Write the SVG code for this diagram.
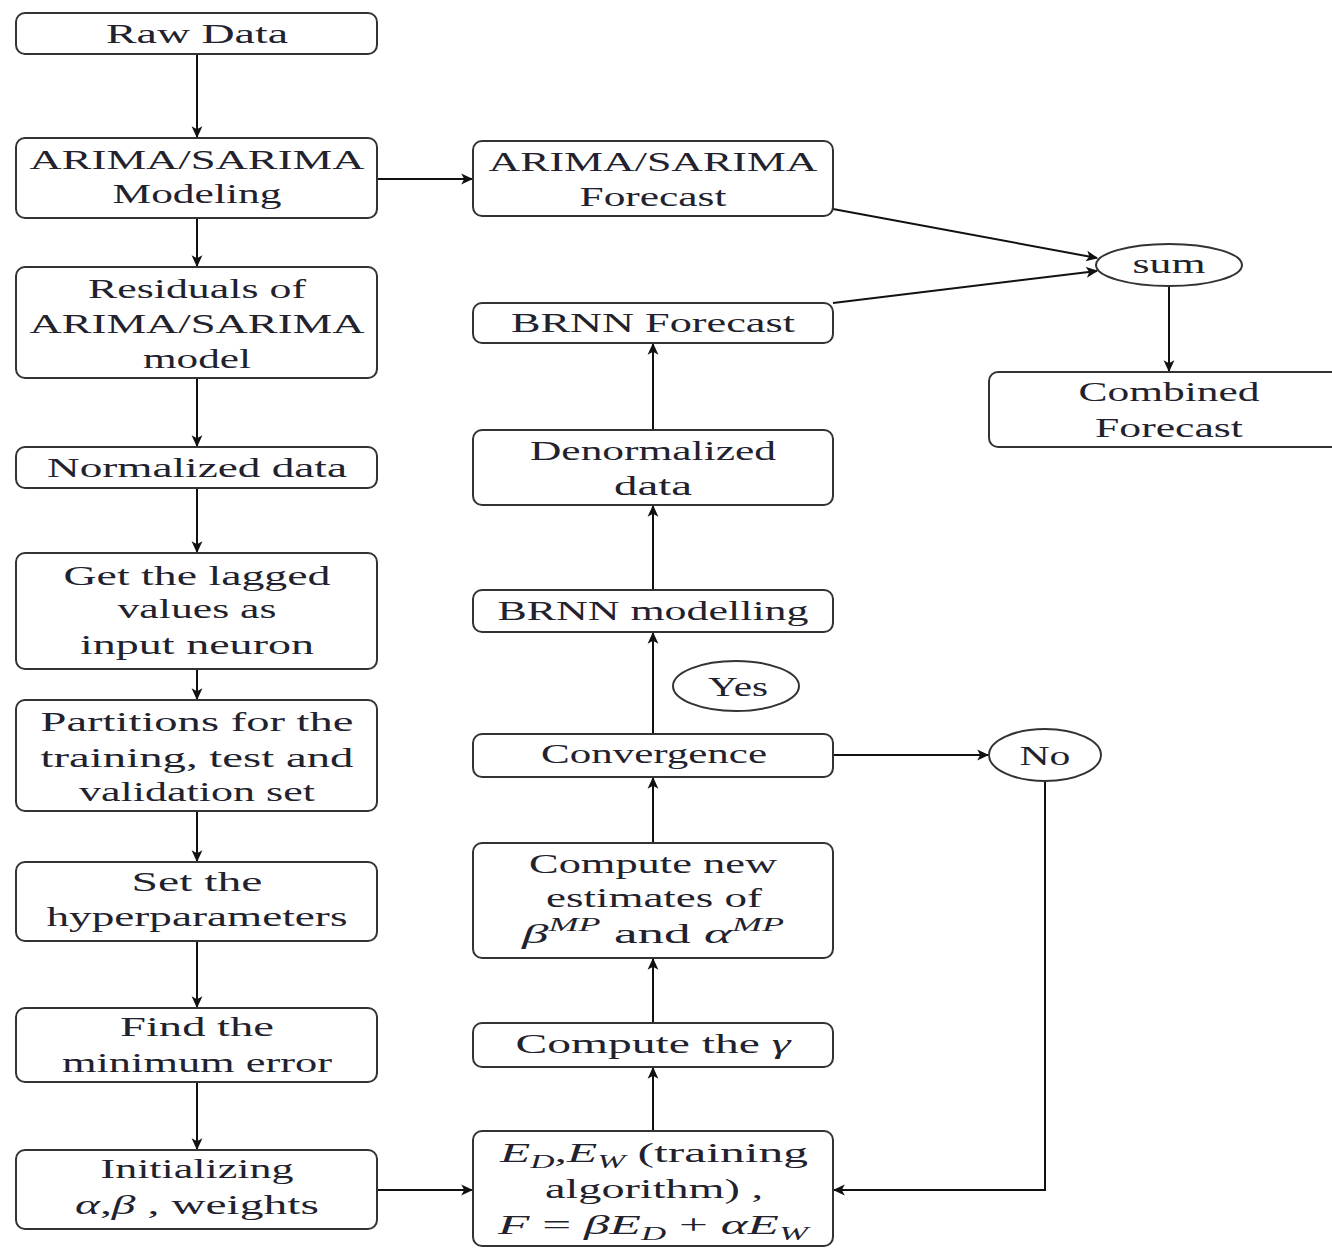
<svg xmlns="http://www.w3.org/2000/svg" width="1332" height="1248" viewBox="0 0 1332 1248">
<defs>
<marker id="ah" viewBox="0 0 10 10" refX="9" refY="5" markerWidth="6" markerHeight="6" orient="auto" markerUnits="strokeWidth">
<path d="M0,0.5 L10,5 L0,9.5 L2.5,5 Z" fill="#111"/>
</marker>
<style>
.box{fill:#fff;stroke:#333;stroke-width:2}
.t{font-family:"Liberation Serif","Times New Roman",serif;font-size:28px;fill:#22222e;text-anchor:middle}
.i{font-style:italic}
.s{font-size:19px}
.c{fill:none;stroke:#111;stroke-width:2;marker-end:url(#ah)}
</style>
</defs>
<rect width="1332" height="1248" fill="#fff"/>
<g id="connectors">
<line class="c" x1="197" y1="54" x2="197" y2="137"/>
<line class="c" x1="377" y1="179" x2="472" y2="179"/>
<line class="c" x1="197" y1="218" x2="197" y2="266"/>
<line class="c" x1="197" y1="378" x2="197" y2="446"/>
<line class="c" x1="197" y1="488" x2="197" y2="552"/>
<line class="c" x1="197" y1="669" x2="197" y2="699"/>
<line class="c" x1="197" y1="811" x2="197" y2="861"/>
<line class="c" x1="197" y1="941" x2="197" y2="1007"/>
<line class="c" x1="197" y1="1082" x2="197" y2="1149"/>
<line class="c" x1="377" y1="1190" x2="472" y2="1190"/>
<line class="c" x1="653" y1="1131" x2="653" y2="1068"/>
<line class="c" x1="653" y1="1023" x2="653" y2="959"/>
<line class="c" x1="653" y1="843" x2="653" y2="778"/>
<line class="c" x1="653" y1="734" x2="653" y2="633"/>
<line class="c" x1="653" y1="590" x2="653" y2="506"/>
<line class="c" x1="653" y1="430" x2="653" y2="344"/>
<line class="c" x1="833" y1="209" x2="1097" y2="258"/>
<line class="c" x1="833" y1="303" x2="1097" y2="271"/>
<line class="c" x1="1169" y1="286" x2="1169" y2="371"/>
<line class="c" x1="833" y1="755" x2="988" y2="755"/>
<polyline class="c" points="1045,781 1045,1190 834,1190"/>
</g>
<g id="raw-data"><rect class="box" x="16" y="13" width="361" height="41" rx="9"/>
<text class="t" x="197" y="43" textLength="182" lengthAdjust="spacingAndGlyphs">Raw Data</text></g>
<g id="arima-modeling"><rect class="box" x="16" y="138" width="361" height="80" rx="9"/>
<text class="t" x="197" y="169" textLength="335" lengthAdjust="spacingAndGlyphs">ARIMA/SARIMA</text>
<text class="t" x="197" y="203" textLength="169" lengthAdjust="spacingAndGlyphs">Modeling</text></g>
<g id="residuals"><rect class="box" x="16" y="267" width="361" height="111" rx="9"/>
<text class="t" x="197" y="298" textLength="218" lengthAdjust="spacingAndGlyphs">Residuals of</text>
<text class="t" x="197" y="333" textLength="335" lengthAdjust="spacingAndGlyphs">ARIMA/SARIMA</text>
<text class="t" x="197" y="368" textLength="108" lengthAdjust="spacingAndGlyphs">model</text></g>
<g id="normalized"><rect class="box" x="16" y="447" width="361" height="41" rx="9"/>
<text class="t" x="197" y="477" textLength="300" lengthAdjust="spacingAndGlyphs">Normalized data</text></g>
<g id="lagged"><rect class="box" x="16" y="553" width="361" height="116" rx="9"/>
<text class="t" x="197" y="585" textLength="267" lengthAdjust="spacingAndGlyphs">Get the lagged</text>
<text class="t" x="197" y="618" textLength="159" lengthAdjust="spacingAndGlyphs">values as</text>
<text class="t" x="197" y="654" textLength="234" lengthAdjust="spacingAndGlyphs">input neuron</text></g>
<g id="partitions"><rect class="box" x="16" y="700" width="361" height="111" rx="9"/>
<text class="t" x="197" y="731" textLength="313" lengthAdjust="spacingAndGlyphs">Partitions for the</text>
<text class="t" x="197" y="767" textLength="313" lengthAdjust="spacingAndGlyphs">training, test and</text>
<text class="t" x="197" y="801" textLength="236" lengthAdjust="spacingAndGlyphs">validation set</text></g>
<g id="hyperparameters"><rect class="box" x="16" y="862" width="361" height="79" rx="9"/>
<text class="t" x="197" y="891" textLength="131" lengthAdjust="spacingAndGlyphs">Set the</text>
<text class="t" x="197" y="926" textLength="301" lengthAdjust="spacingAndGlyphs">hyperparameters</text></g>
<g id="min-error"><rect class="box" x="16" y="1008" width="361" height="74" rx="9"/>
<text class="t" x="197" y="1036" textLength="154" lengthAdjust="spacingAndGlyphs">Find the</text>
<text class="t" x="197" y="1072" textLength="270" lengthAdjust="spacingAndGlyphs">minimum error</text></g>
<g id="initializing"><rect class="box" x="16" y="1150" width="361" height="79" rx="9"/>
<text class="t" x="197" y="1178" textLength="193" lengthAdjust="spacingAndGlyphs">Initializing</text>
<text class="t" x="197" y="1214" textLength="244" lengthAdjust="spacingAndGlyphs"><tspan class="i">α</tspan>,<tspan class="i">β</tspan> , weights</text></g>
<g id="arima-forecast"><rect class="box" x="473" y="141" width="360" height="75" rx="9"/>
<text class="t" x="653" y="171" textLength="329" lengthAdjust="spacingAndGlyphs">ARIMA/SARIMA</text>
<text class="t" x="653" y="206" textLength="147" lengthAdjust="spacingAndGlyphs">Forecast</text></g>
<g id="brnn-forecast"><rect class="box" x="473" y="303" width="360" height="40" rx="9"/>
<text class="t" x="653" y="332" textLength="284" lengthAdjust="spacingAndGlyphs">BRNN Forecast</text></g>
<g id="denormalized"><rect class="box" x="473" y="430" width="360" height="75" rx="9"/>
<text class="t" x="653" y="460" textLength="246" lengthAdjust="spacingAndGlyphs">Denormalized</text>
<text class="t" x="653" y="495" textLength="78" lengthAdjust="spacingAndGlyphs">data</text></g>
<g id="brnn-modelling"><rect class="box" x="473" y="590" width="360" height="42" rx="9"/>
<text class="t" x="653" y="620" textLength="311" lengthAdjust="spacingAndGlyphs">BRNN modelling</text></g>
<g id="yes"><ellipse class="box" cx="736" cy="686" rx="63" ry="25"/>
<text class="t" x="738" y="696" textLength="60" lengthAdjust="spacingAndGlyphs">Yes</text></g>
<g id="convergence"><rect class="box" x="473" y="734" width="360" height="43" rx="9"/>
<text class="t" x="654" y="763" textLength="226" lengthAdjust="spacingAndGlyphs">Convergence</text></g>
<g id="no"><ellipse class="box" cx="1045" cy="755" rx="56" ry="26"/>
<text class="t" x="1045" y="765" textLength="51" lengthAdjust="spacingAndGlyphs">No</text></g>
<g id="compute-estimates"><rect class="box" x="473" y="843" width="360" height="115" rx="9"/>
<text class="t" x="653" y="873" textLength="248" lengthAdjust="spacingAndGlyphs">Compute new</text>
<text class="t" x="654" y="907" textLength="216" lengthAdjust="spacingAndGlyphs">estimates of</text>
<text class="t" x="653" y="943" textLength="262" lengthAdjust="spacingAndGlyphs"><tspan class="i">β</tspan><tspan class="i s" dy="-12">MP</tspan><tspan dy="12"> and </tspan><tspan class="i">α</tspan><tspan class="i s" dy="-12">MP</tspan></text></g>
<g id="compute-gamma"><rect class="box" x="473" y="1023" width="360" height="44" rx="9"/>
<text class="t" x="653" y="1053" textLength="275" lengthAdjust="spacingAndGlyphs">Compute the <tspan class="i">γ</tspan></text></g>
<g id="training"><rect class="box" x="473" y="1131" width="360" height="115" rx="9"/>
<text class="t" x="654" y="1162" textLength="308" lengthAdjust="spacingAndGlyphs"><tspan class="i">E</tspan><tspan class="i s" dy="6">D</tspan><tspan dy="-6">,</tspan><tspan class="i">E</tspan><tspan class="i s" dy="6">W</tspan><tspan dy="-6"> (training</tspan></text>
<text class="t" x="654" y="1198" textLength="218" lengthAdjust="spacingAndGlyphs">algorithm) ,</text>
<text class="t" x="653" y="1234" textLength="310" lengthAdjust="spacingAndGlyphs"><tspan class="i">F</tspan> = <tspan class="i">βE</tspan><tspan class="i s" dy="6">D</tspan><tspan dy="-6"> + </tspan><tspan class="i">αE</tspan><tspan class="i s" dy="6">W</tspan></text></g>
<g id="sum"><ellipse class="box" cx="1169" cy="265" rx="73" ry="21"/>
<text class="t" x="1169" y="273" textLength="73" lengthAdjust="spacingAndGlyphs">sum</text></g>
<g id="combined"><rect class="box" x="989" y="372" width="352" height="75" rx="9"/>
<text class="t" x="1169" y="401" textLength="181" lengthAdjust="spacingAndGlyphs">Combined</text>
<text class="t" x="1169" y="437" textLength="148" lengthAdjust="spacingAndGlyphs">Forecast</text></g>
</svg>
